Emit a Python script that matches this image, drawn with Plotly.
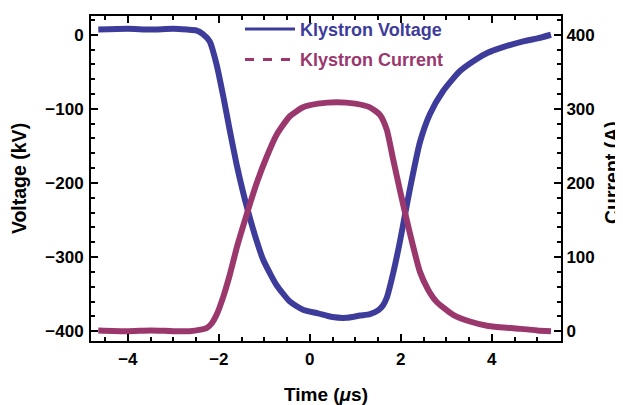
import plotly.graph_objects as go

# ---- data ----
time_v = [-4.65, -4.0, -3.5, -3.0, -2.7, -2.5, -2.35, -2.2, -2.05, -1.9, -1.76, -1.61,
          -1.47, -1.36, -1.21, -1.03, -0.85, -0.73, -0.44, -0.15, 0.18, 0.5, 0.8, 1.1,
          1.32, 1.5, 1.61, 1.69, 1.83, 1.98, 2.1, 2.2, 2.42, 2.64, 2.93, 3.3, 3.66,
          3.92, 4.18, 4.69, 5.0, 5.3]
voltage_kv = [7, 8, 7, 8, 7, 6, 1, -9, -40, -84, -129, -175,
              -212, -238, -270, -303, -325, -338, -360, -371, -376, -381, -382, -379,
              -377, -372, -365, -355, -322, -279, -240, -208, -145, -107, -76, -49, -33,
              -24, -18, -9, -5, 0]

time_i = [-4.65, -4.0, -3.5, -3.0, -2.64, -2.4, -2.27, -2.15, -2.05, -1.9, -1.76, -1.6,
          -1.45, -1.3, -1.15, -0.95, -0.73, -0.44, -0.15, 0.18, 0.59, 1.0, 1.32, 1.54, 1.69,
          1.83, 1.98, 2.1, 2.2, 2.42, 2.6, 2.78, 3.15, 3.52, 3.92, 4.47, 5.0, 5.3]
current_a = [1, 0, 1, 0, 0, 2, 4, 11, 22, 47, 76, 114,
             145, 175, 203, 235, 265, 290, 302, 307, 309, 307, 302, 292, 272,
             232, 190, 158, 132, 80, 56, 40, 22, 13, 7, 4, 1, 0]

x_ticks = [-4, -2, 0, 2, 4]
v_ticks = [0, -100, -200, -300, -400]
i_ticks = [0, 100, 200, 300, 400]

series_names = ["Klystron Voltage", "Klystron Current"]

BLUE = "#3D3C9B"
MAG = "#9A386E"
FONT = "Liberation Sans"

fig = go.Figure()
fig.add_trace(go.Scatter(x=time_v, y=voltage_kv, mode="lines", yaxis="y",
                         line=dict(color=BLUE, width=6, shape="spline", smoothing=0.6),
                         showlegend=False, hoverinfo="skip"))
fig.add_trace(go.Scatter(x=time_i, y=current_a, mode="lines", yaxis="y2",
                         line=dict(color=MAG, width=6, shape="spline", smoothing=0.6),
                         showlegend=False, hoverinfo="skip"))
# legend entries (solid for voltage, dashed for current as in the reference)
fig.add_trace(go.Scatter(x=[None], y=[None], mode="lines", legendgroup="v",
                         line=dict(color=BLUE, width=3),
                         name=f"<span style='color:{BLUE}'>{series_names[0]}</span>"))
fig.add_trace(go.Scatter(x=[None], y=[None], mode="lines", legendgroup="i",
                         line=dict(color=MAG, width=3, dash="dash"),
                         name=f"<span style='color:{MAG}'>{series_names[1]}</span>"))

tickfont = dict(family=FONT, size=17, color="black", weight="bold")
axis_common = dict(showline=True, linecolor="black", linewidth=2, ticks="inside",
                   ticklen=7, tickwidth=2, tickcolor="black", showgrid=False,
                   zeroline=False, tickfont=tickfont)

# page has an 8px body margin: figure is 615x397 so it ends at the window edge
fig.update_layout(
    width=615, height=397,
    margin=dict(l=83, r=62, t=3, b=57),
    paper_bgcolor="white", plot_bgcolor="white",
    xaxis=dict(range=[-4.81, 5.52], tickvals=x_ticks, mirror="ticks", ticklabelstandoff=2,
               minor=dict(dtick=0.5, tick0=0, ticks="inside", ticklen=4, tickwidth=1.5, tickcolor="black"),
               title=dict(text="Time (<i>μ</i>s)", standoff=19,
                          font=dict(family=FONT, size=19, color="black", weight="bold")),
               **axis_common),
    yaxis=dict(range=[-413.3, 25.3], tickvals=v_ticks, ticklabelstandoff=2,
               minor=dict(dtick=20, tick0=0, ticks="inside", ticklen=4, tickwidth=1.5, tickcolor="black"),
               title=dict(text="Voltage (kV)", standoff=16,
                          font=dict(family=FONT, size=19.5, color="black", weight="bold")),
               **axis_common),
    yaxis2=dict(range=[-13.3, 425.3], tickvals=i_ticks, overlaying="y", side="right",
                ticklabelstandoff=0,
                minor=dict(dtick=20, tick0=0, ticks="inside", ticklen=4, tickwidth=1.5, tickcolor="black"),
                **axis_common),
    legend=dict(x=0.317, y=1.016, xanchor="left", yanchor="top", bgcolor="rgba(0,0,0,0)",
                font=dict(family=FONT, size=18, weight="bold"), traceorder="grouped",
                tracegroupgap=4, itemwidth=50),
    annotations=[dict(text="Current (A)", textangle=-90,
                      x=(604 - 83) / 470, y=(332 - 162) / 329, xref="paper", yref="paper",
                      xanchor="center", yanchor="middle", showarrow=False,
                      font=dict(family=FONT, size=19.5, color="black", weight="bold"))],
)

fig.write_html("out.html")
